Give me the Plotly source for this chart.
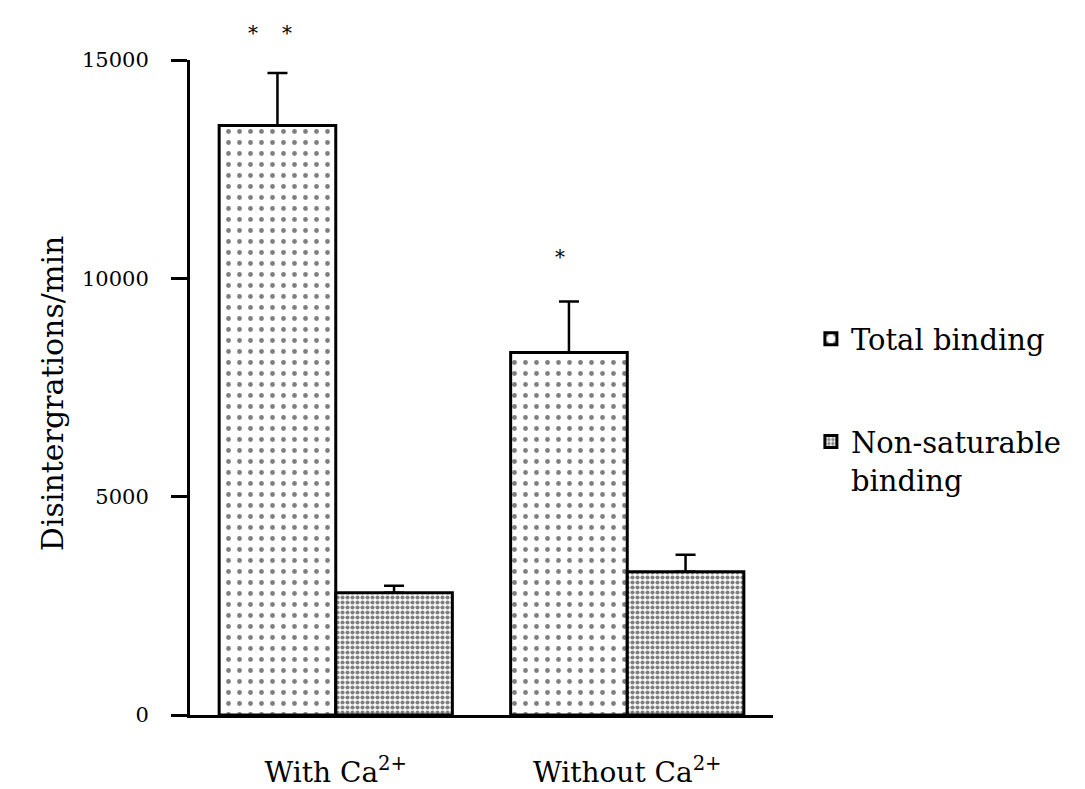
import plotly.graph_objects as go

# Binding data (disintegrations/min), mean and upper error
conditions = ["With Ca<sup>2+</sup>", "Without Ca<sup>2+</sup>"]
total_binding = [13500, 8300]
total_err = [1200, 1170]
nonsat_binding = [2800, 3280]
nonsat_err = [160, 390]

y_ticks = [0, 5000, 10000, 15000]
y_tick_text = ["0", "5000", "10000", "15000"]

SERIF = "DejaVu Serif"

fig = go.Figure()

fig.add_trace(go.Bar(
    name="Total binding",
    x=conditions,
    y=total_binding,
    error_y=dict(type="data", array=total_err, arrayminus=[0, 0], symmetric=False,
                 color="black", thickness=2.5, width=10),
    marker=dict(color="white", line=dict(color="black", width=3),
                pattern=dict(shape=".", size=11, solidity=0.15, fgcolor="black",
                             bgcolor="white", fillmode="overlay")),
    legendgroup="a",
))

fig.add_trace(go.Bar(
    name="Non-saturable<br>binding",
    x=conditions,
    y=nonsat_binding,
    error_y=dict(type="data", array=nonsat_err, arrayminus=[0, 0], symmetric=False,
                 color="black", thickness=2.5, width=10),
    marker=dict(color="white", line=dict(color="black", width=3),
                pattern=dict(shape=".", size=5, solidity=0.55, fgcolor="black",
                             bgcolor="white", fillmode="overlay")),
    legendgroup="b",
))

# significance marks
star_font = dict(family=SERIF, size=20, color="black")
for sx in (-0.284, -0.167):
    fig.add_annotation(x=sx, y=1.062, xref="x", yref="paper", text="*",
                       showarrow=False, font=star_font)
fig.add_annotation(x=0.769, y=10500, xref="x", yref="y", text="*",
                   showarrow=False, font=star_font)

# y-axis title
fig.add_annotation(x=-0.27, y=0.49, xref="paper", yref="paper",
                   text="Disintergrations/min", textangle=-90, showarrow=False,
                   font=dict(family=SERIF, size=30, color="black"))

fig.update_layout(
    width=1085, height=789,
    margin=dict(l=190, r=312, t=60, b=74),
    paper_bgcolor="white", plot_bgcolor="white",
    barmode="group", bargap=0.2, bargroupgap=0,
    showlegend=True,
    legend=dict(x=1.065, y=0.613, xanchor="left", yanchor="top",
                font=dict(family=SERIF, size=29, color="black"),
                tracegroupgap=62, valign="top", bgcolor="rgba(0,0,0,0)"),
    font=dict(family=SERIF, color="black"),
)

fig.update_xaxes(
    showline=True, linecolor="black", linewidth=3,
    showgrid=False, ticks="", range=[-0.5, 1.5],
    tickfont=dict(family=SERIF, size=28, color="black"),
    ticklabelstandoff=30, automargin=False,
)
fig.update_yaxes(
    range=[0, 15000], tickvals=y_ticks, ticktext=y_tick_text,
    showline=True, linecolor="black", linewidth=3,
    showgrid=False, zeroline=False,
    ticks="outside", ticklen=16, tickwidth=3, tickcolor="black",
    tickfont=dict(family=SERIF, size=21, color="black"),
    ticklabelstandoff=18, automargin=False,
)

fig.write_html("out.html")
